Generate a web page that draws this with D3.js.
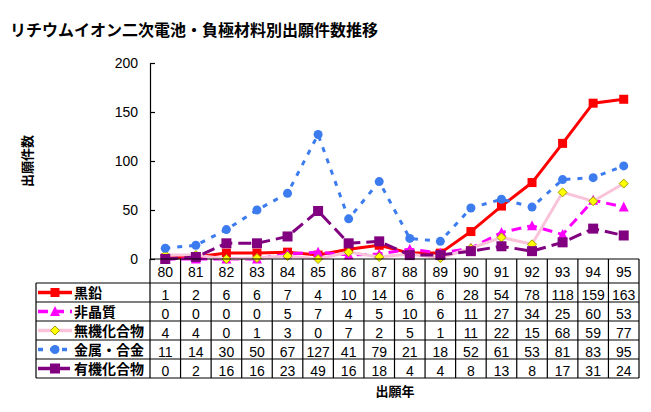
<!DOCTYPE html>
<html>
<head>
<meta charset="utf-8">
<script src="https://cdn.jsdelivr.net/npm/d3@7"></script>
<style>
  body { margin: 0; background: #fff; }
  text { font-family: "Liberation Sans", Arial, "Noto Sans CJK JP", sans-serif; }
  .jp { font-family: "Noto Sans CJK JP", sans-serif; }
</style>
</head>
<body>
<svg width="651" height="412"></svg>
<script>
// chart values
var years = ["80","81","82","83","84","85","86","87","88","89","90","91","92","93","94","95"];
var names = ["黒鉛", "非晶質", "無機化合物", "金属・合金", "有機化合物"];
var kokuen   = [1, 2, 6, 6, 7, 4, 10, 14, 6, 6, 28, 54, 78, 118, 159, 163];
var hishoshitsu = [0, 0, 0, 0, 5, 7, 4, 5, 10, 6, 11, 27, 34, 25, 60, 53];
var muki     = [4, 4, 0, 1, 3, 0, 7, 2, 5, 1, 11, 22, 15, 68, 59, 77];
var kinzoku  = [11, 14, 30, 50, 67, 127, 41, 79, 21, 18, 52, 61, 53, 81, 83, 95];
var yuki     = [0, 2, 16, 16, 23, 49, 16, 18, 4, 4, 8, 13, 8, 17, 31, 24];
var yTicks = [0, 50, 100, 150, 200];

var series = [
  { name: names[0], values: kokuen, color: "#ff0000", dash: null, marker: "square", mfill: "#ff0000", mstroke: "#ff0000", size: 9 },
  { name: names[1], values: hishoshitsu, color: "#ff00ff", dash: "10,6", marker: "triangle", mfill: "#ff00ff", mstroke: "#ff00ff", size: 9 },
  { name: names[2], values: muki, color: "#f9c3da", dash: null, marker: "diamond", mfill: "#ffff00", mstroke: "#a0a000", size: 9 },
  { name: names[3], values: kinzoku, color: "#3d7cef", dash: "5,7", marker: "circle", mfill: "#3d7cef", mstroke: "#3d7cef", size: 9 },
  { name: names[4], values: yuki, color: "#800080", dash: "13,6", marker: "square", mfill: "#800080", mstroke: "#800080", size: 10 }
];

var svg = d3.select("svg");

var plotLeft = 150, plotRight = 639, plotTop = 63, plotBottom = 259;
var x = d3.scaleBand().domain(years).range([plotLeft, plotRight]);
var y = d3.scaleLinear().domain([0, 200]).range([plotBottom, plotTop]);
var cx = function(d, i) { return x(years[i]) + x.bandwidth() / 2; };

// title
svg.append("text")
  .attr("class", "jp")
  .attr("x", 10).attr("y", 36)
  .attr("font-size", 16).attr("font-weight", "bold")
  .text("リチウムイオン二次電池・負極材料別出願件数推移");

// y axis
var yAxis = d3.axisLeft(y).tickValues(yTicks).tickSize(-5).tickPadding(12);
var gy = svg.append("g").attr("transform", "translate(" + plotLeft + ",0)").call(yAxis);
gy.select(".domain").attr("stroke", "#000").attr("stroke-width", 1.2);
gy.selectAll(".tick line").attr("stroke", "#000").attr("stroke-width", 1.2);
gy.selectAll(".tick text").attr("font-size", 14).attr("fill", "#000")
  .style("font-family", "'Liberation Sans', Arial, sans-serif");

svg.append("text")
  .attr("class", "jp")
  .attr("transform", "translate(32,161) rotate(-90)")
  .attr("text-anchor", "middle")
  .attr("font-size", 13).attr("font-weight", "bold")
  .text("出願件数");

// markers
function drawMarker(g, s, px, py) {
  var h = s.size / 2;
  if (s.marker === "square") {
    g.append("rect").attr("x", px - h).attr("y", py - h).attr("width", s.size).attr("height", s.size)
      .attr("fill", s.mfill);
  } else if (s.marker === "circle") {
    g.append("circle").attr("cx", px).attr("cy", py).attr("r", h).attr("fill", s.mfill);
  } else if (s.marker === "triangle") {
    g.append("path").attr("d", "M" + px + "," + (py - h - 1) + "L" + (px + h + 0.5) + "," + (py + h) + "L" + (px - h - 0.5) + "," + (py + h) + "Z")
      .attr("fill", s.mfill);
  } else if (s.marker === "diamond") {
    g.append("path").attr("d", "M" + px + "," + (py - h) + "L" + (px + h) + "," + py + "L" + px + "," + (py + h) + "L" + (px - h) + "," + py + "Z")
      .attr("fill", s.mfill).attr("stroke", s.mstroke).attr("stroke-width", 1);
  }
}

// lines
var line = d3.line().x(cx).y(function(d) { return y(d); });
series.forEach(function(s) {
  var g = svg.append("g");
  g.append("path")
    .datum(s.values)
    .attr("d", line)
    .attr("fill", "none")
    .attr("stroke", s.color)
    .attr("stroke-width", 3)
    .attr("stroke-dasharray", s.dash);
  s.values.forEach(function(v, i) {
    drawMarker(g, s, cx(v, i), y(v));
  });
});

// data table
var headTop = plotBottom, headBottom = 283, rowH = 19;
var legLeft = 36;
var tableBottom = headBottom + rowH * series.length;
var tg = svg.append("g").attr("stroke", "#000").attr("stroke-width", 1.2);

// horizontal lines
tg.append("line").attr("x1", plotLeft).attr("x2", plotRight).attr("y1", headTop).attr("y2", headTop);
d3.range(series.length + 1).forEach(function(r) {
  var yy = headBottom + r * rowH;
  tg.append("line").attr("x1", legLeft).attr("x2", plotRight).attr("y1", yy).attr("y2", yy);
});
// vertical lines
tg.append("line").attr("x1", legLeft).attr("x2", legLeft).attr("y1", headBottom).attr("y2", tableBottom);
years.forEach(function(yr) {
  tg.append("line").attr("x1", x(yr)).attr("x2", x(yr)).attr("y1", headTop).attr("y2", tableBottom);
});
tg.append("line").attr("x1", plotRight).attr("x2", plotRight).attr("y1", headTop).attr("y2", tableBottom);

// year labels
svg.append("g").selectAll("text").data(years).join("text")
  .attr("x", function(d) { return x(d) + x.bandwidth() / 2; })
  .attr("y", 277)
  .attr("text-anchor", "middle")
  .attr("font-size", 14)
  .text(function(d) { return d; });

series.forEach(function(s, r) {
  var rowTop = headBottom + r * rowH;
  svg.append("g").selectAll("text").data(s.values).join("text")
    .attr("x", cx)
    .attr("y", rowTop + 17)
    .attr("text-anchor", "middle")
    .attr("font-size", 14)
    .text(function(d) { return d; });

  // legend swatch
  var my = rowTop + rowH / 2;
  var lg = svg.append("g");
  lg.append("line").attr("x1", 38).attr("x2", 72).attr("y1", my).attr("y2", my)
    .attr("stroke", s.color).attr("stroke-width", 3.5)
    .attr("stroke-dasharray", s.dash);
  drawMarker(lg, s, 55, my);
  lg.append("text")
    .attr("class", "jp")
    .attr("x", 74).attr("y", my + 5)
    .attr("font-size", 14).attr("font-weight", "bold")
    .text(s.name);
});

// x title
svg.append("text")
  .attr("class", "jp")
  .attr("x", 395).attr("y", 396)
  .attr("text-anchor", "middle")
  .attr("font-size", 13).attr("font-weight", "bold")
  .text("出願年");
</script>
</body>
</html>
